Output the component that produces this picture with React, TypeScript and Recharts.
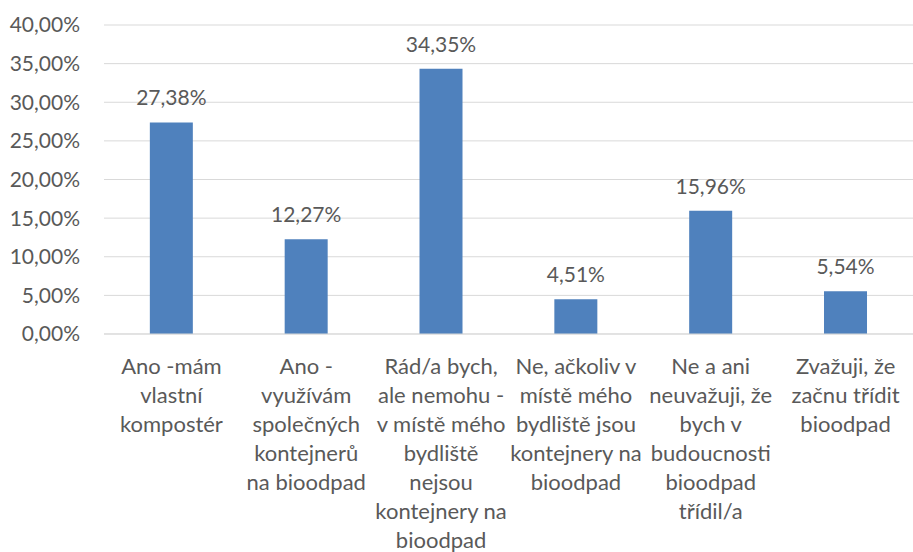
import React from 'react';
import { BarChart, Bar, XAxis, YAxis, CartesianGrid } from 'recharts';

const categories = [
  'Ano -mám\nvlastní\nkompostér',
  'Ano -\nvyužívám\nspolečných\nkontejnerů\nna bioodpad',
  'Rád/a bych,\nale nemohu -\nv místě mého\nbydliště\nnejsou\nkontejnery na\nbioodpad',
  'Ne, ačkoliv v\nmístě mého\nbydliště jsou\nkontejnery na\nbioodpad',
  'Ne a ani\nneuvažuji, že\nbych v\nbudoucnosti\nbioodpad\ntřídil/a',
  'Zvažuji, že\nzačnu třídit\nbioodpad',
];
const shares = [27.38, 12.27, 34.35, 4.51, 15.96, 5.54];
const yTicks = [0, 5, 10, 15, 20, 25, 30, 35, 40];

const data = categories.map((name, i) => ({ name, value: shares[i] }));

const FONT = 'Lato, "Open Sans", sans-serif';
const TEXT = '#595959';

const fmt = (v: number) => v.toFixed(2).replace('.', ',') + '%';

const CategoryTick = (props: any) => {
  const { x, y, payload } = props;
  const lines = String(payload.value).split('\n');
  return (
    <text x={x} y={y} textAnchor="middle" fill={TEXT} fontFamily={FONT} fontSize={22}>
      {lines.map((ln, i) => (
        <tspan key={i} x={x} dy={i === 0 ? 32 : 29}>
          {ln}
        </tspan>
      ))}
    </text>
  );
};

const ValueLabel = (props: any) => {
  const { x, y, width, value } = props;
  return (
    <text x={x + width / 2} y={y - 17} textAnchor="middle" fill={TEXT} fontFamily={FONT} fontSize={21}>
      {fmt(value)}
    </text>
  );
};

export default function App() {
  return (
    <div style={{ position: 'absolute', left: 0, top: 0, background: '#fff' }}>
      <BarChart width={913} height={552} data={data} margin={{ top: 25, right: 0, bottom: 0, left: 0 }} barCategoryGap="34%">
        <CartesianGrid vertical={false} stroke="#d9d9d9" />
        <XAxis
          dataKey="name"
          height={218}
          interval={0}
          tickLine={false}
          axisLine={{ stroke: '#d9d9d9' }}
          tick={<CategoryTick />}
        />
        <YAxis
          width={104}
          domain={[0, 40]}
          ticks={yTicks}
          tickFormatter={fmt}
          axisLine={false}
          tickLine={false}
          tickSize={0}
          tickMargin={24}
          tick={{ fill: TEXT, fontFamily: FONT, fontSize: 21 }}
        />
        <Bar dataKey="value" fill="#4F81BD" isAnimationActive={false} label={<ValueLabel />} />
      </BarChart>
    </div>
  );
}
